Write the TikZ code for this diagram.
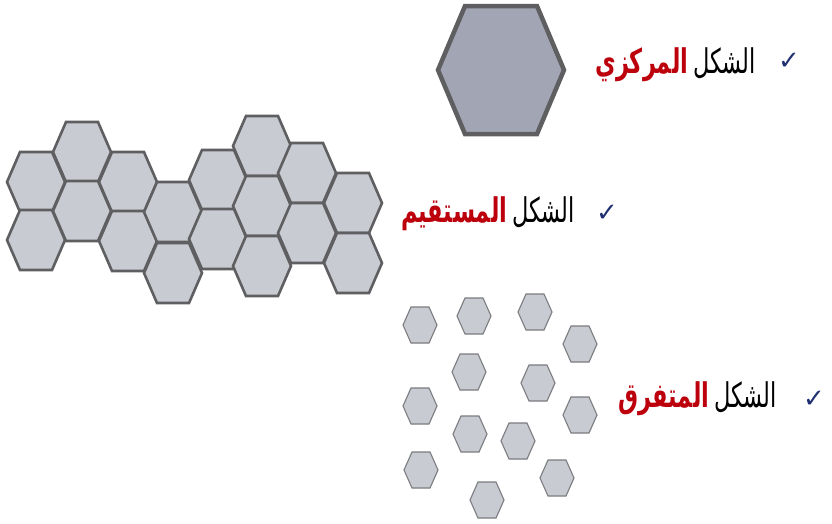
\documentclass[tikz,border=0pt]{standalone}
\usepackage{fontspec}
\TeXXeTstate=1
\newfontfamily\arabicfont[Script=Arabic]{DejaVu Sans}
\newfontfamily\symfont{DejaVu Sans}
\definecolor{hexborder}{HTML}{5F5F61}
\definecolor{hexfill}{HTML}{C9CBD3}
\definecolor{bigfill}{HTML}{A2A5B4}
\definecolor{thinborder}{HTML}{7C7C80}
\definecolor{redtext}{HTML}{BC000C}
\definecolor{checkblue}{HTML}{1F2F70}
\tikzset{
  pics/hexagon/.style args={#1/#2/#3}{code={%
    \draw[pic actions] (-#1,0) -- (-#3,-#2) -- (#3,-#2) -- (#1,0) -- (#3,#2) -- (-#3,#2) -- cycle;}},
  bighex/.style={fill=bigfill, draw=hexborder, line width=4.5pt, line join=miter},
  clusterhex/.style={fill=hexfill, draw=hexborder, line width=2.6pt, line join=miter},
  scatterhex/.style={fill=hexfill, draw=thinborder, line width=1.1pt},
  blackword/.style={inner sep=0pt, font=\arabicfont\fontsize{34}{40}\selectfont, text=black, xscale=0.66},
  redword/.style={inner sep=0pt, font=\arabicfont\bfseries\fontsize{34}{40}\selectfont, text=redtext, xscale=0.66},
  checkmark/.style={inner sep=0pt, font=\symfont\fontsize{26}{30}\selectfont, text=checkblue}
}
\begin{document}
\begin{tikzpicture}[x=1pt,y=-1pt]
\useasboundingbox[fill=white] (0,0) rectangle (832,523);

% central big hexagon
\pic[bighex] at (501,70) {hexagon=63/64/36};

% straight cluster
\foreach \cx/\cy in {36/182, 36/240, 82/152, 82/211, 128/182, 128/241,
  173/212, 173/273, 218/180, 218/239, 262/146, 262/206, 262/266,
  307/173, 307/233, 353/203, 353/263}
  \pic[clusterhex] at (\cx,\cy) {hexagon=29/30/16};

% scattered hexagons
\foreach \cx/\cy in {420/325, 474/316, 535/312, 580/344, 469/372, 538/383,
  420/406, 580/415, 470/434, 518/441, 421/470, 557/478, 487/500}
  \pic[scatterhex] at (\cx,\cy) {hexagon=17/18/9};

% row 1
\node[checkmark] (c1) at (789,61) {✓};
\node[blackword, anchor=base east] (b1) at (756,73) {\beginR الشكل\endR};
\node[redword, anchor=base east] (r1) at ([xshift=-5pt]b1.base west) {\beginR المركزي\endR};

% row 2
\node[checkmark] (c2) at (607,213) {✓};
\node[blackword, anchor=base east] (b2) at (575,222) {\beginR الشكل\endR};
\node[redword, anchor=base east] (r2) at ([xshift=-5pt]b2.base west) {\beginR المستقيم\endR};

% row 3
\node[checkmark] (c3) at (814,399) {✓};
\node[blackword, anchor=base east] (b3) at (777,407) {\beginR الشكل\endR};
\node[redword, anchor=base east] (r3) at ([xshift=-5pt]b3.base west) {\beginR المتفرق\endR};
\end{tikzpicture}
\end{document}
